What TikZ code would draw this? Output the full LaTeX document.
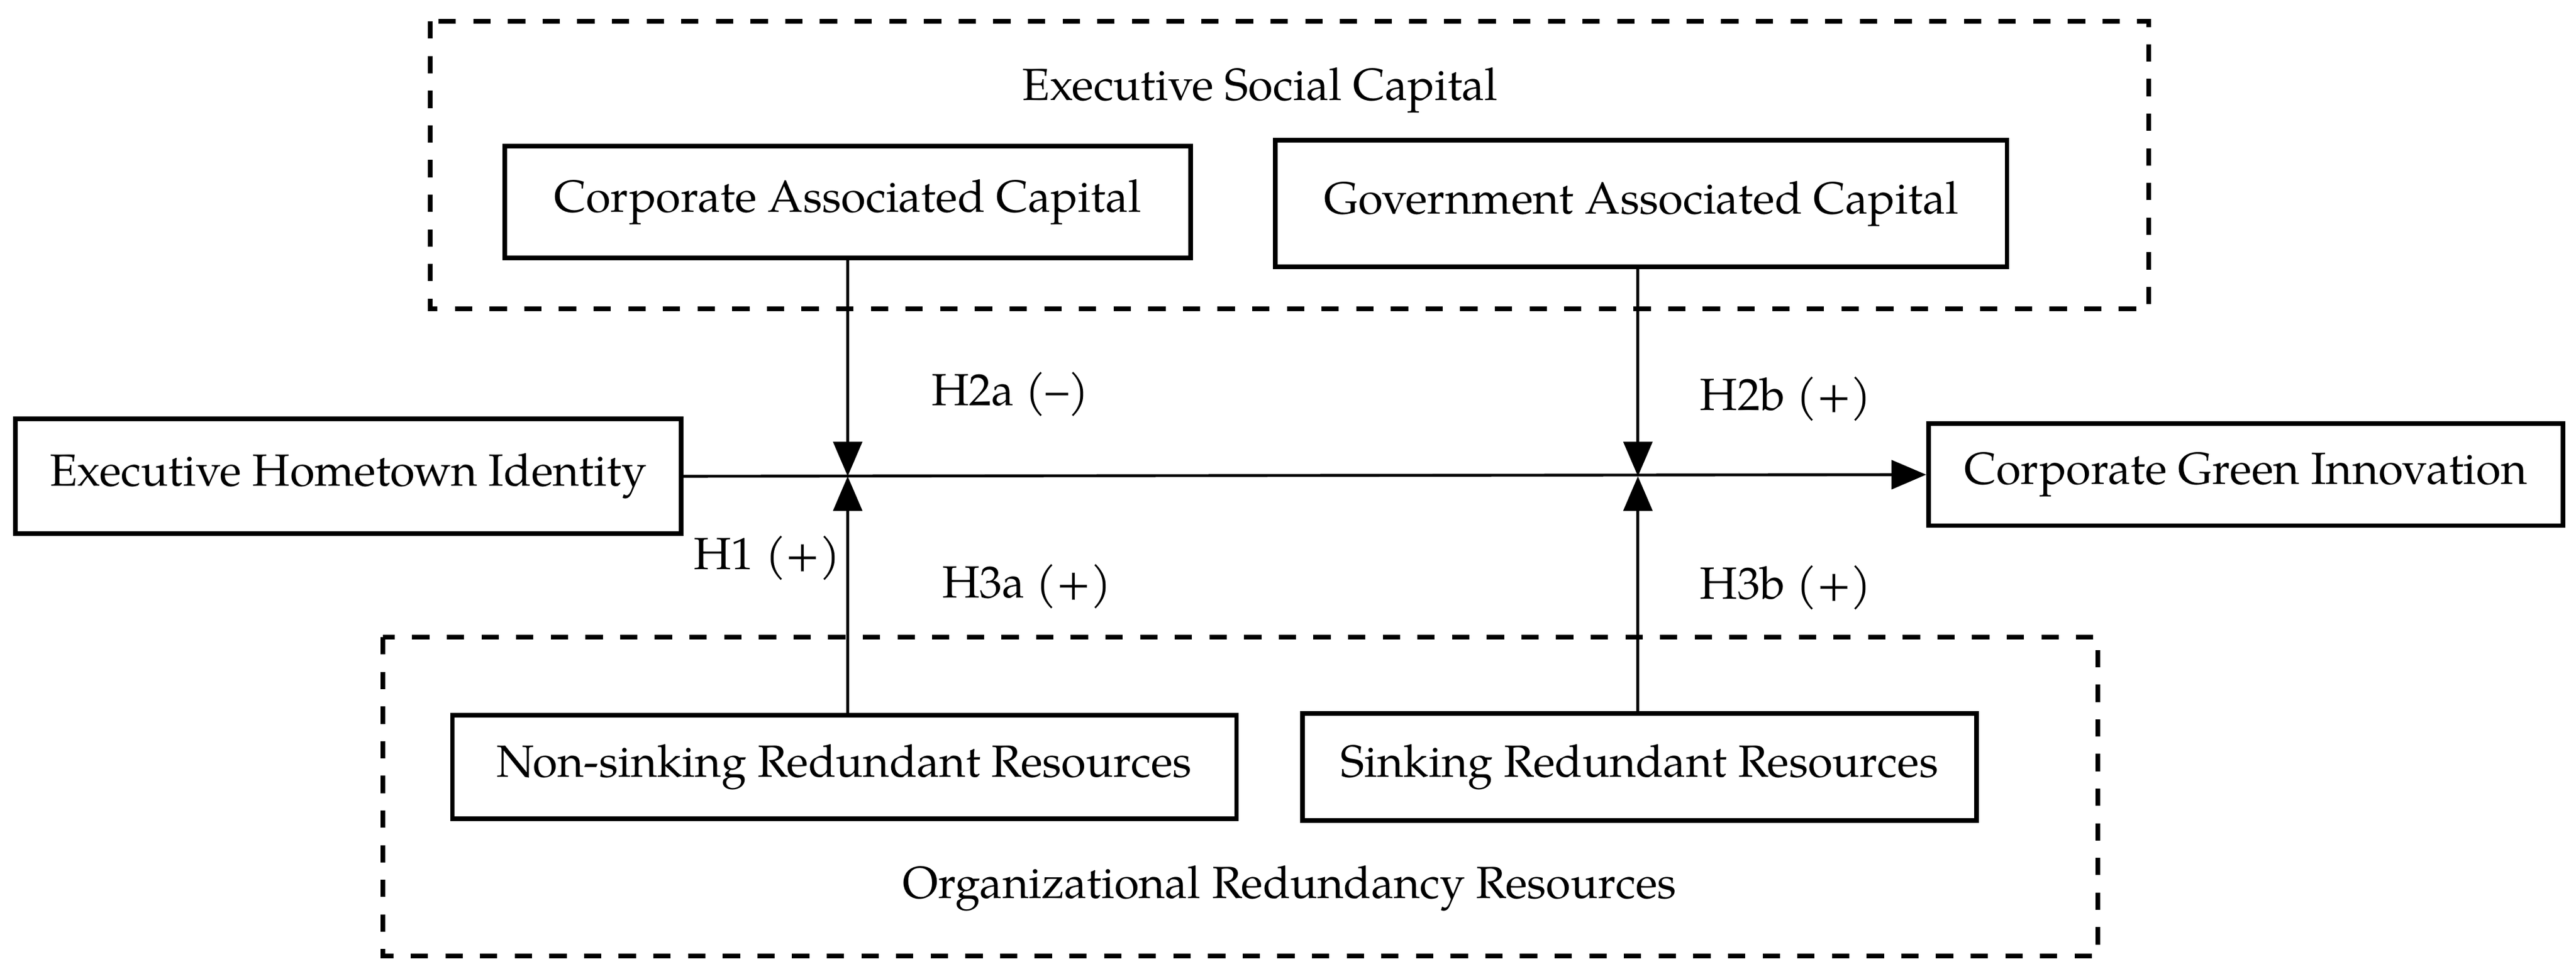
\documentclass[tikz,border=0pt]{standalone}
\usepackage{fontspec}
\setmainfont{TeX Gyre Pagella}
\usetikzlibrary{arrows.meta}
\begin{document}
\begin{tikzpicture}[x=0.01cm,y=-0.01cm,
  box/.style={draw,line width=0.8pt,minimum height=0.68cm,font=\fontsize{7.8}{9}\selectfont,inner sep=0pt},
  grp/.style={draw,dashed,line width=0.8pt},
  lbl/.style={font=\fontsize{7.8}{9}\selectfont},
  arr/.style={-{Triangle[length=6pt,width=5pt]},line width=0.5pt}]
\useasboundingbox (0,0) rectangle (1568,590);
\draw[grp] (262,13) rectangle (1308,188);
\draw[grp] (233,388) rectangle (1277,582);
\node[lbl] (esc) at (767,55) {Executive Social Capital};
\node[lbl] (orr) at (785,541) {Organizational Redundancy Resources};
\node[box,minimum width=4.17cm] (cac) at (516,123) {Corporate Associated Capital};
\node[box,minimum width=4.45cm,minimum height=0.77cm] (gac) at (999,124) {Government Associated Capital};
\node[box,minimum width=4.05cm,minimum height=0.7cm] (ehi) at (212,290) {Executive Hometown Identity};
\node[box,minimum width=3.86cm,minimum height=0.62cm] (cgi) at (1367,289) {Corporate Green Innovation};
\node[box,minimum width=4.77cm,minimum height=0.63cm] (nsr) at (514,467) {Non-sinking Redundant Resources};
\node[box,minimum width=4.10cm,minimum height=0.65cm] (srr) at (998,467) {Sinking Redundant Resources};
\coordinate (j1) at (516,290);
\coordinate (j2) at (997,290);
\draw[arr] (ehi.east) -- (cgi.west);
\draw[arr] (cac.south -| j1) -- (j1);
\draw[arr] (gac.south -| j2) -- (j2);
\draw[arr] (nsr.north -| j1) -- (j1);
\draw[arr] (srr.north -| j2) -- (j2);
\node[lbl] (h2a) at (615,240) {H2a (–)};
\node[lbl] (h2b) at (1087,243) {H2b (+)};
\node[lbl] (h1) at (467,340) {H1 (+)};
\node[lbl] (h3a) at (625,357) {H3a (+)};
\node[lbl] (h3b) at (1087,358) {H3b (+)};
\end{tikzpicture}
\end{document}
